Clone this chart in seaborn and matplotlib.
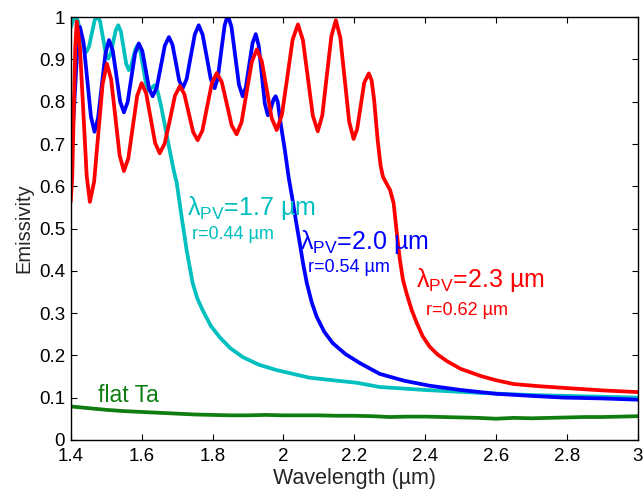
import numpy as np
import pandas as pd
import seaborn as sns
import matplotlib.pyplot as plt

# значения (длина волны в мкм, излучательная способность)
cyan_x = [1.400, 1.406, 1.412, 1.420, 1.428, 1.436, 1.444, 1.4518, 1.4595, 1.4673,
          1.475, 1.4828, 1.4905, 1.4983, 1.506, 1.513, 1.520, 1.527, 1.534, 1.5415,
          1.549, 1.5565, 1.564, 1.5703, 1.5765, 1.5828, 1.589, 1.5968, 1.6045, 1.6123,
          1.620, 1.6285, 1.637, 1.645, 1.655, 1.668, 1.679, 1.690, 1.699, 1.713,
          1.727, 1.744, 1.757, 1.772, 1.795, 1.820, 1.850, 1.885, 1.930, 1.981,
          2.074, 2.207, 2.272, 2.400, 2.557, 2.700, 2.850, 3.000]
cyan_y = [0.976, 0.990, 1.005, 0.992, 0.962, 0.931, 0.918, 0.931, 0.962, 0.992,
          1.005, 0.990, 0.954, 0.917, 0.902, 0.914, 0.942, 0.969, 0.981, 0.966,
          0.928, 0.890, 0.875, 0.884, 0.905, 0.925, 0.934, 0.918, 0.881, 0.843,
          0.827, 0.833, 0.839, 0.825, 0.790, 0.733, 0.686, 0.640, 0.608, 0.527,
          0.449, 0.371, 0.335, 0.307, 0.270, 0.243, 0.217, 0.196, 0.178, 0.165,
          0.147, 0.135, 0.125, 0.118, 0.111, 0.106, 0.103, 0.100]

blue_x = [1.400, 1.4065, 1.413, 1.4195, 1.426, 1.436, 1.4465, 1.457, 1.467, 1.477,
          1.4875, 1.498, 1.508, 1.5185, 1.529, 1.5395, 1.550, 1.5605, 1.571, 1.5815,
          1.592, 1.602, 1.6115, 1.621, 1.631, 1.6425, 1.654, 1.6655, 1.677, 1.687,
          1.6965, 1.706, 1.716, 1.727, 1.7385, 1.750, 1.761, 1.772, 1.7835, 1.795,
          1.806, 1.815, 1.8245, 1.834, 1.843, 1.8535, 1.864, 1.8745, 1.885, 1.894,
          1.9035, 1.913, 1.922, 1.9305, 1.939, 1.9475, 1.956, 1.9615, 1.967, 1.9725,
          1.978, 1.984, 1.992, 2.004, 2.015, 2.026, 2.036, 2.046, 2.056, 2.066,
          2.080, 2.094, 2.115, 2.139, 2.175, 2.215, 2.272, 2.340, 2.413, 2.500,
          2.600, 2.700, 2.790, 2.900, 3.000]
blue_y = [0.705, 0.745, 0.841, 0.937, 0.977, 0.941, 0.853, 0.765, 0.729, 0.761,
          0.838, 0.914, 0.946, 0.921, 0.861, 0.800, 0.775, 0.799, 0.857, 0.914,
          0.938, 0.920, 0.876, 0.831, 0.813, 0.833, 0.883, 0.933, 0.953, 0.935,
          0.893, 0.850, 0.832, 0.854, 0.907, 0.959, 0.981, 0.959, 0.907, 0.854,
          0.832, 0.857, 0.919, 0.980, 1.005, 0.977, 0.909, 0.841, 0.813, 0.834,
          0.887, 0.939, 0.960, 0.932, 0.864, 0.796, 0.768, 0.775, 0.791, 0.806,
          0.813, 0.800, 0.750, 0.686, 0.620, 0.567, 0.515, 0.466, 0.415, 0.371,
          0.325, 0.291, 0.256, 0.229, 0.203, 0.182, 0.156, 0.140, 0.128, 0.118,
          0.109, 0.104, 0.100, 0.098, 0.095]

red_x = [1.400, 1.4043, 1.4085, 1.4128, 1.417, 1.426, 1.4355, 1.445, 1.454, 1.466,
         1.478, 1.490, 1.502, 1.514, 1.526, 1.538, 1.550, 1.5625, 1.575, 1.5875,
         1.600, 1.6128, 1.6255, 1.6383, 1.651, 1.665, 1.680, 1.694, 1.708, 1.7205,
         1.733, 1.7455, 1.758, 1.7715, 1.785, 1.7985, 1.812, 1.826, 1.840, 1.854,
         1.868, 1.882, 1.8965, 1.911, 1.925, 1.939, 1.953, 1.967, 1.981, 1.996,
         2.011, 2.026, 2.041, 2.055, 2.069, 2.083, 2.097, 2.1098, 2.1225, 2.1353,
         2.148, 2.1605, 2.173, 2.1855, 2.198, 2.208, 2.218, 2.228, 2.241, 2.249,
         2.256, 2.266, 2.274, 2.281, 2.292, 2.301, 2.311, 2.320, 2.328, 2.337,
         2.348, 2.362, 2.376, 2.393, 2.413, 2.435, 2.460, 2.500, 2.557, 2.600,
         2.650, 2.720, 2.790, 2.900, 3.000]
red_y = [0.563, 0.625, 0.777, 0.928, 0.990, 0.928, 0.777, 0.625, 0.563, 0.611,
         0.727, 0.842, 0.890, 0.853, 0.763, 0.673, 0.636, 0.666, 0.740, 0.814,
         0.844, 0.820, 0.761, 0.702, 0.678, 0.701, 0.758, 0.814, 0.837, 0.818,
         0.773, 0.728, 0.709, 0.732, 0.789, 0.845, 0.868, 0.847, 0.796, 0.744,
         0.723, 0.752, 0.824, 0.895, 0.924, 0.896, 0.829, 0.761, 0.733, 0.770,
         0.858, 0.947, 0.983, 0.946, 0.857, 0.767, 0.730, 0.768, 0.862, 0.955,
         0.993, 0.952, 0.853, 0.753, 0.712, 0.735, 0.790, 0.845, 0.867, 0.850,
         0.804, 0.709, 0.650, 0.622, 0.605, 0.591, 0.560, 0.489, 0.430, 0.380,
         0.345, 0.307, 0.277, 0.245, 0.220, 0.202, 0.187, 0.168, 0.151, 0.141,
         0.132, 0.127, 0.123, 0.117, 0.113]

ta_x = [1.40, 1.45, 1.50, 1.55, 1.60, 1.65, 1.70, 1.75, 1.80, 1.85, 1.90, 1.95,
        2.00, 2.05, 2.10, 2.15, 2.20, 2.25, 2.30, 2.35, 2.40, 2.45, 2.50, 2.55,
        2.60, 2.65, 2.70, 2.75, 2.80, 2.85, 2.90, 2.95, 3.00]
ta_y = [0.079, 0.075, 0.071, 0.068, 0.066, 0.064, 0.062, 0.060, 0.059, 0.058, 0.058, 0.059,
        0.058, 0.058, 0.058, 0.057, 0.057, 0.056, 0.054, 0.055, 0.055, 0.054, 0.053, 0.052,
        0.050, 0.052, 0.051, 0.052, 0.053, 0.054, 0.054, 0.055, 0.056]

sns.set_style('ticks')
plt.rcParams['font.family'] = ['Liberation Sans', 'DejaVu Sans']
plt.rcParams['mathtext.default'] = 'regular'

fig = plt.figure(figsize=(6.43, 4.92), dpi=100)
ax = fig.add_axes([0.110, 0.106, 0.882, 0.859])

lw = 2.7
kw = dict(lw=lw, sort=False, estimator=None, ax=ax,
          solid_joinstyle='round', solid_capstyle='round')
sns.lineplot(x=ta_x, y=ta_y, color='#0f7d0f', **kw)
sns.lineplot(x=cyan_x, y=cyan_y, color='#00bfbf', **kw)
sns.lineplot(x=blue_x, y=blue_y, color='#0000ff', **kw)
sns.lineplot(x=red_x, y=red_y, color='#ff0000', **kw)

ax.set_xlim(1.4, 3)
ax.set_ylim(0, 1)
ax.set_xticks(np.arange(1.4, 3.01, 0.2))
ax.set_xticklabels(['1.4', '1.6', '1.8', '2', '2.2', '2.4', '2.6', '2.8', '3'])
ax.set_yticks(np.arange(0, 1.01, 0.1))
ax.set_yticklabels(['0', '0.1', '0.2', '0.3', '0.4', '0.5', '0.6', '0.7', '0.8', '0.9', '1'])
ax.tick_params(direction='in', top=True, right=True, length=4, width=0.8,
               labelsize=13.5, colors='black')
ax.tick_params(axis='x', pad=6)
ax.tick_params(axis='y', pad=4)
for s in ax.spines.values():
    s.set_linewidth(1.0)
    s.set_color('black')
ax.set_xlabel('Wavelength (µm)', fontsize=15.5, labelpad=2)
ax.set_ylabel('Emissivity', fontsize=14.5, labelpad=4)

ax.text(1.727, 0.548, r'λ$_{PV}$=1.7 µm', color='#00bfbf', fontsize=18, va='center')
ax.text(1.741, 0.485, 'r=0.44 µm', color='#00bfbf', fontsize=13, va='center')
ax.text(2.046, 0.468, r'λ$_{PV}$=2.0 µm', color='#0000ff', fontsize=18, va='center')
ax.text(2.069, 0.407, 'r=0.54 µm', color='#0000ff', fontsize=13, va='center')
ax.text(2.373, 0.378, r'λ$_{PV}$=2.3 µm', color='#ff0000', fontsize=18, va='center')
ax.text(2.402, 0.305, 'r=0.62 µm', color='#ff0000', fontsize=13, va='center')
ax.text(1.476, 0.106, 'flat Ta', color='#0f7d0f', fontsize=16.5, va='center')

fig.savefig('out.png', dpi=100)
